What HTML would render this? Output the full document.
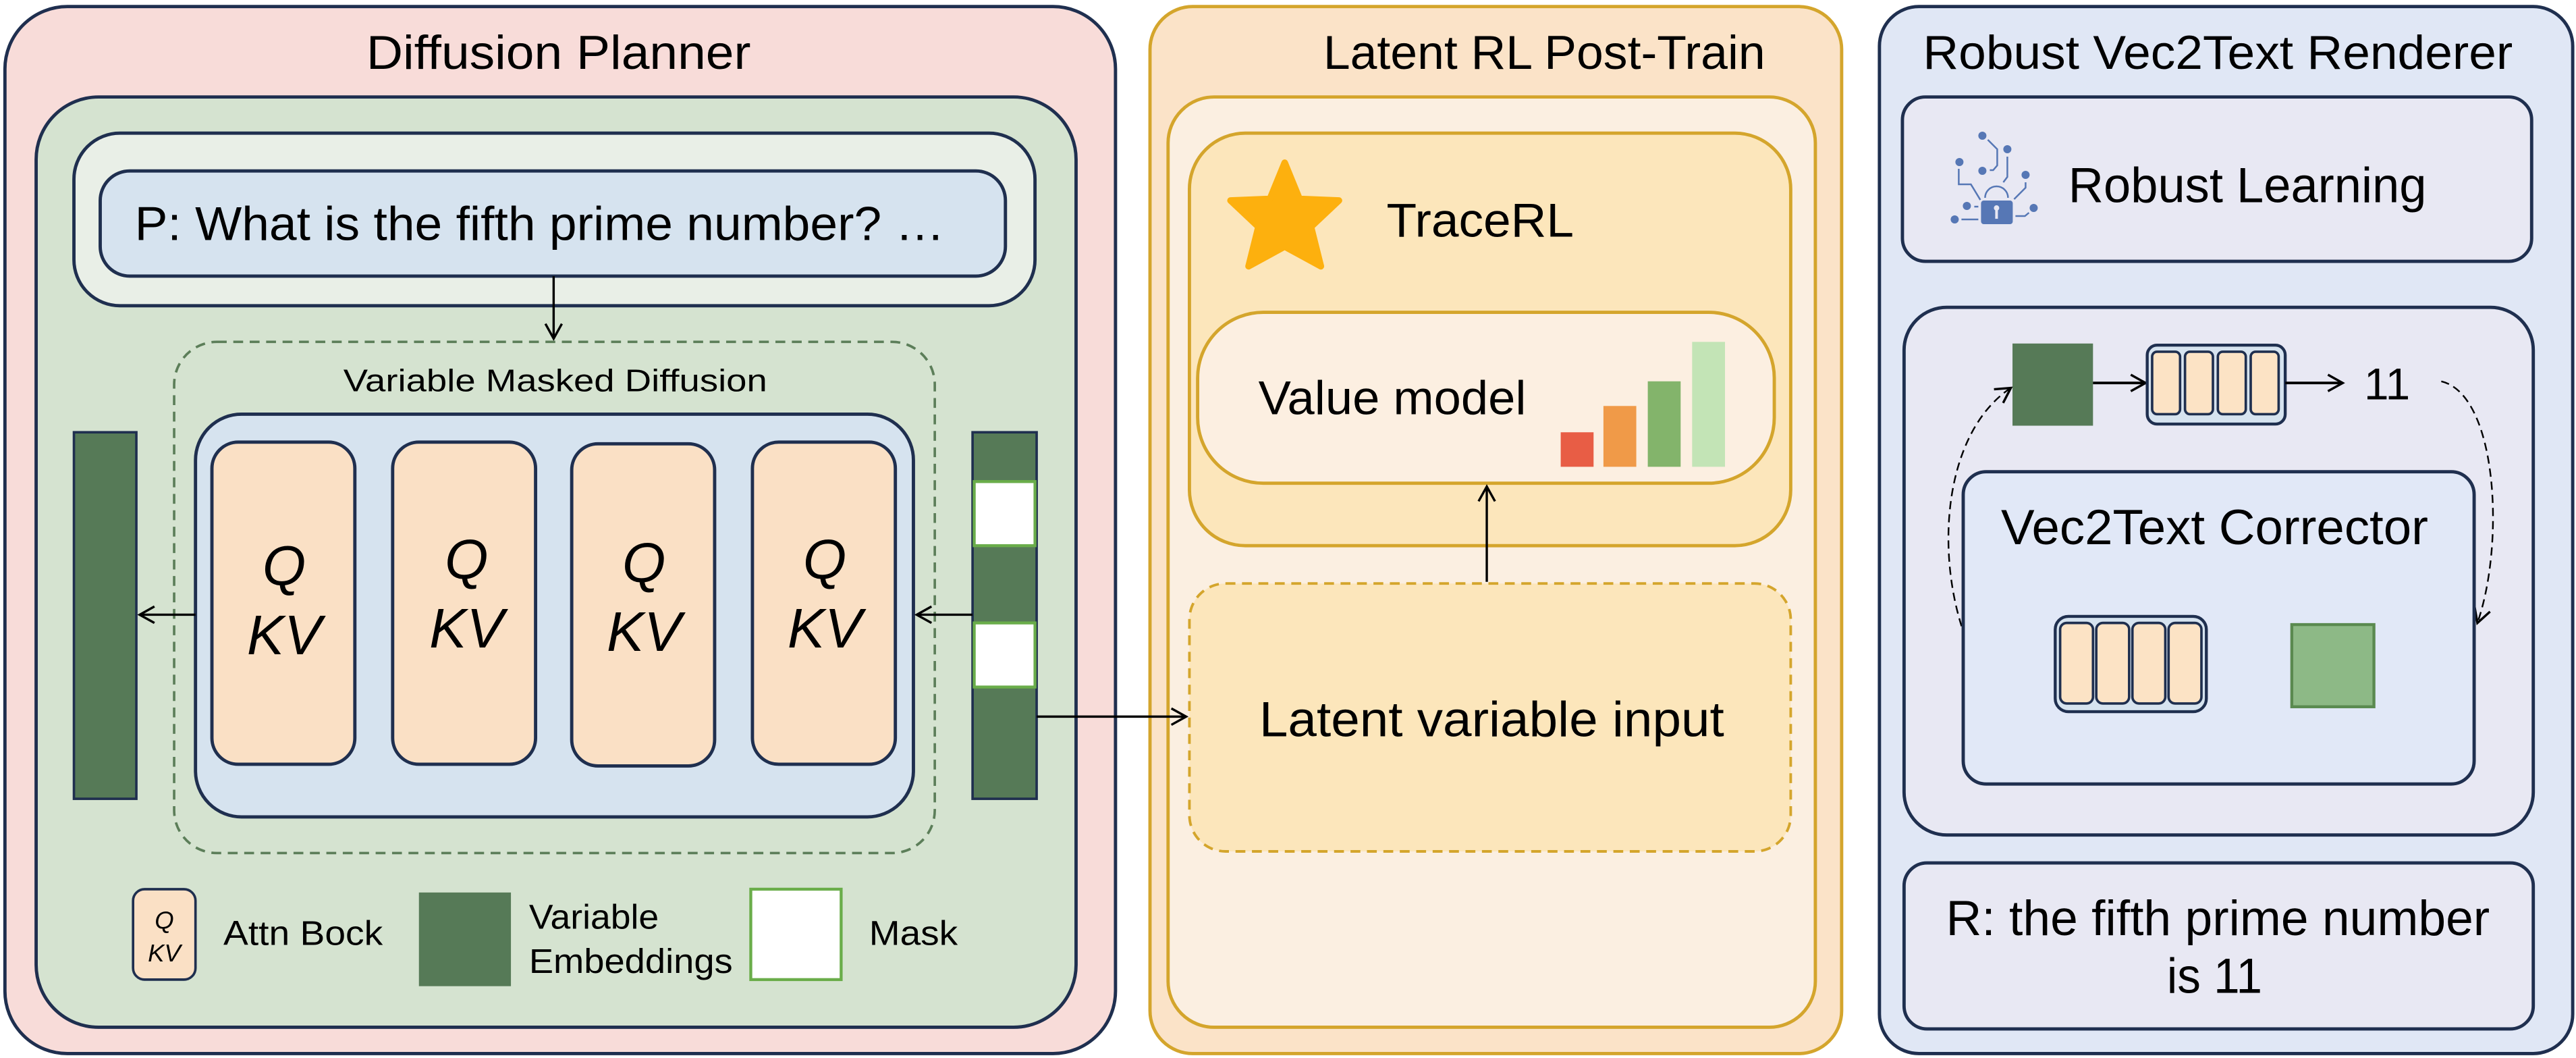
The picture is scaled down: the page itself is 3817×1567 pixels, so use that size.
<!DOCTYPE html>
<html><head><meta charset="utf-8"><style>
html,body{margin:0;padding:0;background:#fff;}
svg{display:block;}
text{font-family:"Liberation Sans",sans-serif;fill:#000;}
</style></head><body>
<svg width="3817" height="1567" viewBox="0 0 1568 643.7" preserveAspectRatio="none" xmlns="http://www.w3.org/2000/svg">
<defs>
<marker id="ah" markerWidth="12" markerHeight="12" refX="10" refY="6" orient="auto" markerUnits="userSpaceOnUse">
<path d="M1,1 L10,6 L1,11" fill="none" stroke="#000" stroke-width="1.4"/>
</marker>
</defs>
<rect x="0" y="0" width="1568" height="644" fill="#fff"/>

<!-- Panel 1 -->
<rect x="3" y="4" width="676" height="637" rx="38" fill="#f8dcd9" stroke="#1f2f4f" stroke-width="2"/>
<text x="340" y="42" font-size="29" text-anchor="middle" textLength="234" lengthAdjust="spacingAndGlyphs">Diffusion Planner</text>
<rect x="22" y="59" width="633" height="566" rx="38" fill="#d5e3d0" stroke="#1f2f4f" stroke-width="2"/>
<rect x="45" y="81" width="585" height="105" rx="28" fill="#e9efe7" stroke="#1f2f4f" stroke-width="2"/>
<rect x="61" y="104" width="551" height="64" rx="18" fill="#d6e3ef" stroke="#1f2f4f" stroke-width="2"/>
<text x="82" y="146" font-size="29" textLength="493" lengthAdjust="spacingAndGlyphs">P: What is the fifth prime number? …</text>
<line x1="337" y1="168" x2="337" y2="206" stroke="#000" stroke-width="1.4" marker-end="url(#ah)"/>
<rect x="106" y="208" width="463" height="311" rx="26" fill="none" stroke="#5c7e59" stroke-width="1.5" stroke-dasharray="6,4"/>
<text x="338" y="238" font-size="19" text-anchor="middle" textLength="258" lengthAdjust="spacingAndGlyphs">Variable Masked Diffusion</text>
<rect x="119" y="252" width="437" height="245" rx="28" fill="#d6e3ef" stroke="#1f2f4f" stroke-width="2"/>
<g fill="#fae0c5" stroke="#1f2f4f" stroke-width="2">
<rect x="129" y="269" width="87" height="196" rx="16"/>
<rect x="239" y="269" width="87" height="196" rx="16"/>
<rect x="348" y="270" width="87" height="196" rx="16"/>
<rect x="458" y="269" width="87" height="196" rx="16"/>
</g>
<g font-size="34" font-style="italic" text-anchor="middle">
<text x="173" y="356">Q</text><text x="173" y="398">KV</text>
<text x="284" y="352">Q</text><text x="284" y="394">KV</text>
<text x="392" y="354">Q</text><text x="392" y="396">KV</text>
<text x="502" y="352">Q</text><text x="502" y="394">KV</text>
</g>
<rect x="45" y="263" width="38" height="223" fill="#567a57" stroke="#1f2f4f" stroke-width="1.5"/>
<rect x="592" y="263" width="39" height="223" fill="#567a57" stroke="#1f2f4f" stroke-width="1.5"/>
<rect x="593" y="293" width="37" height="39" fill="#fff" stroke="#6aad4a" stroke-width="1.8"/>
<rect x="593" y="379" width="37" height="39" fill="#fff" stroke="#6aad4a" stroke-width="1.8"/>
<line x1="119" y1="374" x2="85" y2="374" stroke="#000" stroke-width="1.4" marker-end="url(#ah)"/>
<line x1="592" y1="374" x2="558" y2="374" stroke="#000" stroke-width="1.4" marker-end="url(#ah)"/>
<!-- legend -->
<rect x="81" y="541" width="38" height="55" rx="7" fill="#fae0c5" stroke="#1f2f4f" stroke-width="1.5"/>
<text x="100" y="565" font-size="15" font-style="italic" text-anchor="middle">Q</text>
<text x="100" y="585" font-size="15" font-style="italic" text-anchor="middle">KV</text>
<text x="136" y="575" font-size="21" textLength="97" lengthAdjust="spacingAndGlyphs">Attn Bock</text>
<rect x="255" y="543" width="56" height="57" fill="#567a57"/>
<text x="322" y="565" font-size="21" textLength="79" lengthAdjust="spacingAndGlyphs">Variable</text>
<text x="322" y="592" font-size="21" textLength="124" lengthAdjust="spacingAndGlyphs">Embeddings</text>
<rect x="457" y="541" width="55" height="55" fill="#fff" stroke="#6aad4a" stroke-width="1.8"/>
<text x="529" y="575" font-size="21" textLength="54" lengthAdjust="spacingAndGlyphs">Mask</text>

<!-- Panel 2 -->
<rect x="700" y="4" width="421" height="637" rx="26" fill="#fbe3c8" stroke="#d4a52c" stroke-width="2"/>
<text x="940" y="42" font-size="29" text-anchor="middle" textLength="269" lengthAdjust="spacingAndGlyphs">Latent RL Post-Train</text>
<rect x="711" y="59" width="394" height="566" rx="28" fill="#fbefe1" stroke="#d4a52c" stroke-width="2"/>
<rect x="724" y="81" width="366" height="251" rx="34" fill="#fce6bb" stroke="#d4a52c" stroke-width="2"/>
<path d="M782,99 L791,121 L815,122 L798,138 L804,162 L782,150 L760,162 L766,138 L749,122 L773,121 Z" fill="#fdb00e" stroke="#fdb00e" stroke-width="4" stroke-linejoin="round"/>
<text x="844" y="144" font-size="29" textLength="114" lengthAdjust="spacingAndGlyphs">TraceRL</text>
<rect x="729" y="190" width="351" height="104" rx="40" fill="#fcefe1" stroke="#d4a52c" stroke-width="2"/>
<text x="766" y="252" font-size="29" textLength="163" lengthAdjust="spacingAndGlyphs">Value model</text>
<rect x="950" y="263" width="20" height="21" fill="#e85d45"/>
<rect x="976" y="247" width="20" height="37" fill="#f09a48"/>
<rect x="1003" y="232" width="20" height="52" fill="#83b46b"/>
<rect x="1030" y="208" width="20" height="76" fill="#c3e4b6"/>
<line x1="905" y1="354" x2="905" y2="296" stroke="#000" stroke-width="1.4" marker-end="url(#ah)"/>
<rect x="724" y="355" width="366" height="163" rx="22" fill="#fce6bb" stroke="#d4a52c" stroke-width="1.6" stroke-dasharray="6,4"/>
<text x="908" y="448" font-size="30" text-anchor="middle" textLength="283" lengthAdjust="spacingAndGlyphs">Latent variable input</text>
<line x1="631" y1="436" x2="722" y2="436" stroke="#000" stroke-width="1.4" marker-end="url(#ah)"/>

<!-- Panel 3 -->
<rect x="1144" y="4" width="422" height="637" rx="24" fill="#e0e7f5" stroke="#1f2f4f" stroke-width="2"/>
<text x="1350" y="42" font-size="29" text-anchor="middle" textLength="359" lengthAdjust="spacingAndGlyphs">Robust Vec2Text Renderer</text>
<rect x="1158" y="59" width="383" height="100" rx="14" fill="#e8e8f3" stroke="#1f2f4f" stroke-width="2"/>
<g transform="scale(0.41085)" fill="#5677b5" stroke="#5677b5">
<g stroke="none">
<circle cx="2937" cy="201" r="6"/><circle cx="2903" cy="240" r="6"/><circle cx="2937" cy="253" r="6"/>
<circle cx="2974" cy="221" r="6"/><circle cx="3001" cy="259" r="6"/><circle cx="2914" cy="305" r="6"/>
<circle cx="2896" cy="325" r="6"/><circle cx="3013" cy="308" r="6"/>
<rect x="2935" y="297" width="47" height="35" rx="4"/>
</g>
<g fill="none" stroke-width="2.5">
<path d="M2941,293 A17,17 0 0 1 2975,293"/>
<polyline points="2945,207 2959,221 2959,245 2953,252 2948,252"/>
<polyline points="2974,232 2974,262 2968,270"/>
<polyline points="2902,250 2902,273 2920,273 2934,296"/>
<polyline points="3001,270 3001,278 2984,295"/>
<polyline points="2925,306 2931,306"/>
<polyline points="2906,325 2931,325"/>
<polyline points="2986,320 3000,320 3006,315"/>
</g>
<circle cx="2958" cy="308" r="4" fill="#e8e8f3" stroke="none"/>
<rect x="2956" y="308" width="4" height="16" fill="#e8e8f3" stroke="none"/>
</g>
<text x="1259" y="123" font-size="30" textLength="218" lengthAdjust="spacingAndGlyphs">Robust Learning</text>
<rect x="1159" y="187" width="383" height="321" rx="26" fill="#e8e8f3" stroke="#1f2f4f" stroke-width="2"/>
<rect x="1225" y="209" width="49" height="50" fill="#567a57"/>
<line x1="1274" y1="233" x2="1306" y2="233" stroke="#000" stroke-width="1.6" marker-end="url(#ah)"/>
<rect x="1307" y="210" width="84" height="48" rx="6" fill="#d6e3ef" stroke="#1f2f4f" stroke-width="1.8"/>
<g fill="#fce3c5" stroke="#1f2f4f" stroke-width="1.5">
<rect x="1310" y="214" width="17" height="38" rx="3"/><rect x="1330" y="214" width="17" height="38" rx="3"/>
<rect x="1350" y="214" width="17" height="38" rx="3"/><rect x="1370" y="214" width="17" height="38" rx="3"/>
</g>
<line x1="1391" y1="233" x2="1426" y2="233" stroke="#000" stroke-width="1.6" marker-end="url(#ah)"/>
<text x="1439" y="243" font-size="27">11</text>
<path d="M1194,381 C1178,330 1185,262 1224,236" fill="none" stroke="#000" stroke-width="1" stroke-dasharray="5,3" marker-end="url(#ah)"/>
<path d="M1486,232 C1520,240 1525,330 1508,379" fill="none" stroke="#000" stroke-width="1" stroke-dasharray="5,3" marker-end="url(#ah)"/>
<rect x="1195" y="287" width="311" height="190" rx="14" fill="#e1e8f7" stroke="#1f2f4f" stroke-width="2"/>
<text x="1348" y="331" font-size="30" text-anchor="middle" textLength="260" lengthAdjust="spacingAndGlyphs">Vec2Text Corrector</text>
<rect x="1251" y="375" width="92" height="58" rx="8" fill="#d6e3ef" stroke="#1f2f4f" stroke-width="1.8"/>
<g fill="#fce3c5" stroke="#1f2f4f" stroke-width="1.5">
<rect x="1254" y="379" width="20" height="49" rx="4"/><rect x="1276" y="379" width="20" height="49" rx="4"/>
<rect x="1298" y="379" width="20" height="49" rx="4"/><rect x="1320" y="379" width="20" height="49" rx="4"/>
</g>
<rect x="1395" y="380" width="50" height="50" fill="#8db986" stroke="#5a8a50" stroke-width="1.8"/>
<rect x="1159" y="525" width="383" height="101" rx="14" fill="#e8e8f3" stroke="#1f2f4f" stroke-width="2"/>
<text x="1350" y="569" font-size="30" text-anchor="middle" textLength="331" lengthAdjust="spacingAndGlyphs">R: the fifth prime number</text>
<text x="1348" y="604" font-size="30" text-anchor="middle" textLength="58" lengthAdjust="spacingAndGlyphs">is 11</text>
</svg>
</body></html>
